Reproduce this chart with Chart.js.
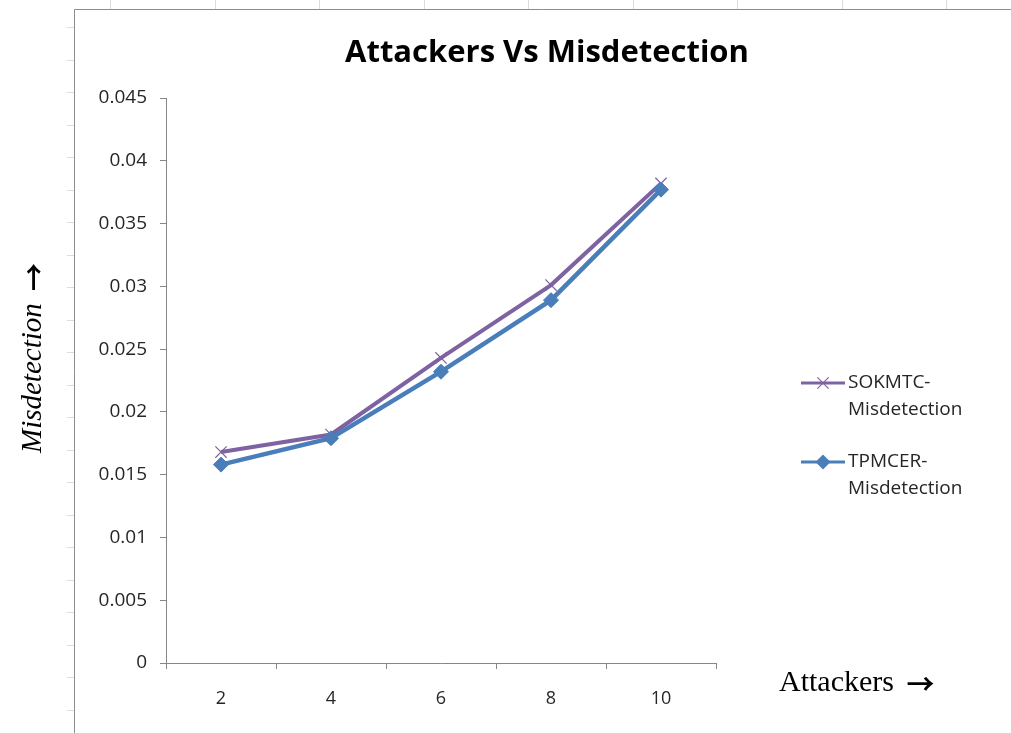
<!DOCTYPE html>
<html>
<head>
<meta charset="utf-8">
<script src="https://cdn.jsdelivr.net/npm/chart.js@4/dist/chart.umd.min.js"></script>
<style>
  html, body { margin: 0; padding: 0; background: #fff; }
  #wrap { width: 1011px; height: 733px; position: relative; }
</style>
</head>
<body>
<div id="wrap"><canvas id="c" width="1011" height="733"></canvas></div>
<script>
// Attackers on the x axis, misdetection rate on the y axis
const attackers = ['2', '4', '6', '8', '10'];
const sokmtcMisdetection = [0.0168, 0.0182, 0.0243, 0.0301, 0.0382];
const tpmcerMisdetection = [0.0158, 0.0179, 0.0232, 0.0289, 0.0377];
const seriesNames = ['SOKMTC-Misdetection', 'TPMCER-Misdetection'];
const yTickMin = 0, yTickMax = 0.045, yTickStep = 0.005;

const chartTitle = 'Attackers Vs Misdetection';
const xTitle = 'Attackers';
const yTitle = 'Misdetection';
const arrow = '\u2192';

const PURPLE = '#7f62a1';
const BLUE = '#4a7ebb';
const AXIS = '#868686';
const LABEL = '#262626';
const UI_FONT = '"Open Sans", sans-serif';
const ARROW_FONT = 'bold 28px "Noto Sans CJK SC", "DejaVu Sans", sans-serif';
const ARROW_GAP = 5;

function drawMarker(ctx, style, x, y, r, color, lw) {
  ctx.save();
  ctx.strokeStyle = color;
  ctx.fillStyle = color;
  ctx.lineWidth = lw;
  ctx.beginPath();
  if (style === 'rectRot') {
    ctx.moveTo(x, y - r); ctx.lineTo(x + r, y); ctx.lineTo(x, y + r); ctx.lineTo(x - r, y);
    ctx.closePath(); ctx.fill();
  } else {
    const d = r * Math.SQRT1_2;
    ctx.moveTo(x - d, y - d); ctx.lineTo(x + d, y + d);
    ctx.moveTo(x + d, y - d); ctx.lineTo(x - d, y + d);
    ctx.stroke();
  }
  ctx.restore();
}

function captionWidth(ctx, word, italic, size) {
  ctx.font = (italic ? 'italic ' : '') + size + 'px "Liberation Serif", serif';
  const w = ctx.measureText(word + ' ').width;
  ctx.font = ARROW_FONT;
  return w + ARROW_GAP + ctx.measureText(arrow).width;
}

// axis caption: serif word followed by a heavier arrow
function drawCaption(ctx, word, italic, size, x, y) {
  ctx.font = (italic ? 'italic ' : '') + size + 'px "Liberation Serif", serif';
  ctx.textAlign = 'left';
  ctx.textBaseline = 'middle';
  ctx.fillText(word, x, y);
  const w = ctx.measureText(word + ' ').width;
  ctx.font = ARROW_FONT;
  ctx.fillText(arrow, x + w + ARROW_GAP, y + 1);
}

// Worksheet frame, titles and the side legend
const decor = {
  id: 'decor',
  beforeDraw(chart) {
    const ctx = chart.ctx;
    ctx.save();
    ctx.fillStyle = '#fff';
    ctx.fillRect(0, 0, chart.width, chart.height);
    // faint sheet gridline stubs
    ctx.strokeStyle = '#dcdcdc';
    ctx.lineWidth = 1;
    for (let x = 110; x < 1011; x += 104.5) {
      ctx.beginPath(); ctx.moveTo(Math.round(x) + 0.5, 0); ctx.lineTo(Math.round(x) + 0.5, 9); ctx.stroke();
    }
    for (let y = 27; y < 733; y += 32.5) {
      ctx.beginPath(); ctx.moveTo(67, Math.round(y) + 0.5); ctx.lineTo(74, Math.round(y) + 0.5); ctx.stroke();
    }
    // chart object border
    ctx.strokeStyle = '#8c8c8c';
    ctx.beginPath();
    ctx.moveTo(74.5, 733); ctx.lineTo(74.5, 9.5); ctx.lineTo(1011, 9.5);
    ctx.stroke();
    ctx.restore();
  },
  afterDraw(chart) {
    const ctx = chart.ctx;
    ctx.save();
    // main title
    ctx.fillStyle = '#000';
    ctx.font = 'bold 31px ' + UI_FONT;
    ctx.textAlign = 'center';
    ctx.textBaseline = 'alphabetic';
    ctx.fillText(chartTitle, 547, 62);

    // axis titles
    ctx.fillStyle = '#000';
    ctx.save();
    ctx.translate(33, 358);
    ctx.rotate(-Math.PI / 2);
    const total = captionWidth(ctx, yTitle, true, 29);
    drawCaption(ctx, yTitle, true, 29, -total / 2, 0);
    ctx.restore();

    drawCaption(ctx, xTitle, false, 30, 779, 683);

    // legend
    const rows = [383, 462];
    ctx.font = '19px ' + UI_FONT;
    chart.data.datasets.forEach((ds, i) => {
      const y = rows[i];
      ctx.strokeStyle = ds.borderColor;
      ctx.lineWidth = 3;
      ctx.beginPath(); ctx.moveTo(801, y); ctx.lineTo(845, y); ctx.stroke();
      drawMarker(ctx, ds.pointStyle, 823, y, ds.pointRadius, ds.pointBorderColor || ds.borderColor, ds.pointBorderWidth || 1);
      const cut = ds.label.indexOf('-') + 1;
      const lines = [ds.label.slice(0, cut), ds.label.slice(cut)];
      ctx.fillStyle = LABEL;
      ctx.textAlign = 'left';
      ctx.textBaseline = 'middle';
      lines.forEach((t, k) => ctx.fillText(t, 848, y + k * 27));
    });
    ctx.restore();
  }
};

new Chart(document.getElementById('c'), {
  type: 'line',
  data: {
    labels: attackers,
    datasets: [
      {
        label: seriesNames[0],
        data: sokmtcMisdetection,
        borderColor: PURPLE,
        backgroundColor: PURPLE,
        borderWidth: 4,
        pointStyle: 'crossRot',
        pointRadius: 8,
        pointBorderWidth: 1.2,
        pointBorderColor: PURPLE,
        tension: 0,
        order: 1
      },
      {
        label: seriesNames[1],
        data: tpmcerMisdetection,
        borderColor: BLUE,
        backgroundColor: BLUE,
        borderWidth: 4.5,
        pointStyle: 'rectRot',
        pointRadius: 7.5,
        pointBorderWidth: 1,
        pointBorderColor: BLUE,
        pointBackgroundColor: BLUE,
        tension: 0,
        order: 0
      }
    ]
  },
  options: {
    responsive: false,
    animation: false,
    events: [],
    layout: { padding: { top: 98, right: 295, bottom: 0, left: 0 } },
    plugins: { legend: { display: false }, title: { display: false }, tooltip: { enabled: false } },
    scales: {
      x: {
        offset: true,
        grid: { offset: true, drawOnChartArea: false, drawTicks: true, tickLength: 6, color: AXIS, lineWidth: 1 },
        border: { color: AXIS, width: 1 },
        ticks: { color: LABEL, font: { family: UI_FONT, size: 18 }, padding: 19, maxRotation: 0 },
        afterFit(s) { s.height = 70; }
      },
      y: {
        min: yTickMin,
        max: yTickMax,
        grid: { drawOnChartArea: false, drawTicks: true, tickLength: 6, color: AXIS, lineWidth: 1 },
        border: { color: AXIS, width: 1 },
        ticks: {
          stepSize: yTickStep,
          color: LABEL,
          font: { family: UI_FONT, size: 19 },
          padding: 13,
          callback: v => String(parseFloat(Number(v).toFixed(3)))
        },
        afterFit(s) { s.width = 166; }
      }
    }
  },
  plugins: [decor]
});
</script>
</body>
</html>
